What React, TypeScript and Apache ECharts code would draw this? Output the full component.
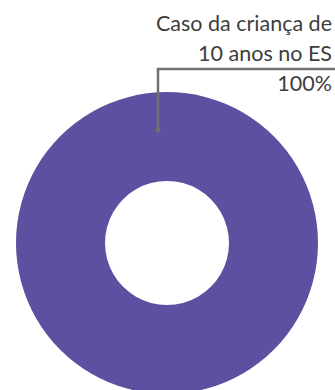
import React, { useEffect, useRef } from "react";
import * as echarts from "echarts";

const categories = ["Caso da criança de\n10 anos no ES"];
const values = [100];
const colors = ["#5e4fa0"];

export default function App() {
  const ref = useRef<HTMLDivElement>(null);
  useEffect(() => {
    document.body.style.margin = "0";
    const chart = echarts.init(ref.current!, null, { renderer: "svg" });
    chart.setOption({
      animation: false,
      color: colors,
      graphic: [
        {
          type: "polyline",
          shape: {
            points: [
              [158, 130],
              [158, 69],
              [335, 69],
            ],
          },
          style: { stroke: "#6f7170", lineWidth: 2.5, fill: null },
          z: 100,
        },
        {
          type: "circle",
          shape: { cx: 158, cy: 130, r: 2.5 },
          style: { fill: "#6f7170" },
          z: 100,
        },
      ],
      series: [
        {
          type: "pie",
          center: [167, 243],
          radius: [62, 151],
          startAngle: 90,
          silent: true,
          data: categories.map((c, i) => ({ name: c, value: values[i] })),
          label: {
            show: true,
            position: "outside",
            formatter: "{b}\n{d}%",
            fontFamily: "Lato",
            fontSize: 21.5,
            lineHeight: 30,
            color: "#3d3d3d",
            align: "right",
            overflow: "none",
            width: 300,
          },
          labelLine: { show: false },
          labelLayout: () => ({
            x: 332,
            y: 8,
            align: "right",
            verticalAlign: "top",
            width: 300,
          }),
        },
      ],
    });
    return () => chart.dispose();
  }, []);
  return <div ref={ref} style={{ width: 335, height: 390 }} />;
}
